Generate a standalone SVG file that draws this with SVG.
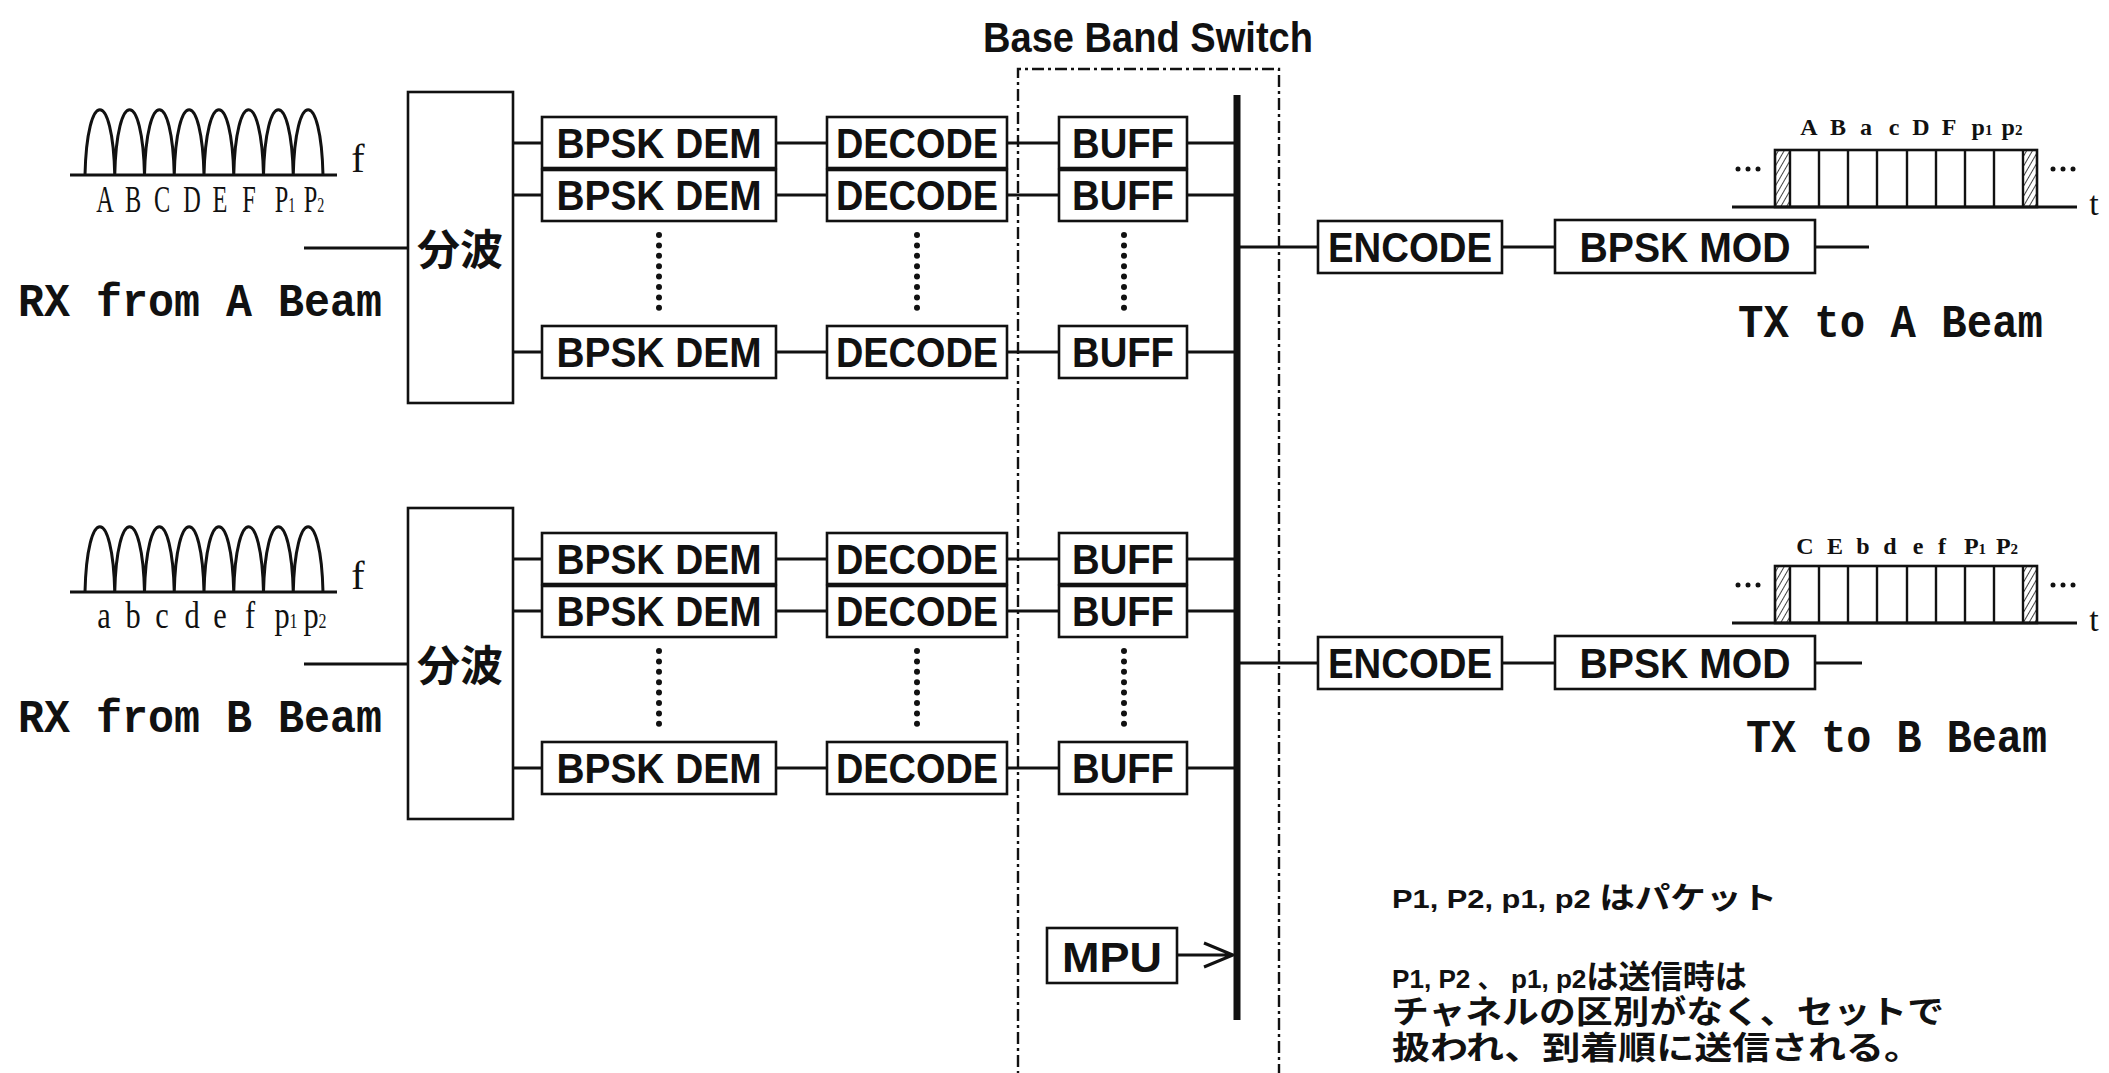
<svg xmlns="http://www.w3.org/2000/svg" width="2109" height="1073" viewBox="0 0 2109 1073">
<style>
.bx{fill:#fff;stroke:#111;stroke-width:2.6}
.ln{stroke:#111;stroke-width:3;fill:none}
.dots{stroke:#111;stroke-width:6;stroke-linecap:round;stroke-dasharray:0 10.4;fill:none}
.t{font-family:"Liberation Sans",Arial,sans-serif;font-weight:700;font-size:42px;fill:#111;text-anchor:middle}
.mono{font-family:"Liberation Mono","Courier New",monospace;font-weight:700;font-size:46px;fill:#111}
.ser{font-family:"Liberation Serif","Times New Roman",serif;fill:#111;text-anchor:middle}
.sl{font-size:38px}
.pl{font-size:24px;font-weight:700}
.cjk{font-family:"Liberation Sans","Noto Sans CJK JP",sans-serif;font-weight:700;fill:#111}
.jp{font-family:"Noto Sans CJK JP",sans-serif;font-weight:700;fill:#111}
</style>
<defs>
<pattern id="hatch" width="5" height="5" patternUnits="userSpaceOnUse" patternTransform="rotate(30)">
<line x1="0" y1="0" x2="0" y2="5" stroke="#111" stroke-width="1.6"/>
</pattern>
<path id="humps" d="M85,175 c2,-87 27.75,-87 29.75,0 c2,-87 27.75,-87 29.75,0 c2,-87 27.75,-87 29.75,0 c2,-87 27.75,-87 29.75,0 c2,-87 27.75,-87 29.75,0 c2,-87 27.75,-87 29.75,0 c2,-87 27.75,-87 29.75,0 c2,-87 27.75,-87 29.75,0 M70,175 H337" fill="none" stroke="#111" stroke-width="3"/>
<g id="pulse">
<line x1="1732" y1="207" x2="2077" y2="207" stroke="#111" stroke-width="3"/>
<rect x="1775" y="150" width="15" height="57" fill="url(#hatch)"/>
<rect x="2023" y="150" width="14" height="57" fill="url(#hatch)"/>
<rect x="1775" y="150" width="262" height="57" fill="none" stroke="#111" stroke-width="2.6"/>
<path d="M1790,150V207M1819,150V207M1848,150V207M1877,150V207M1907,150V207M1936,150V207M1965,150V207M1994,150V207M2023,150V207" stroke="#111" stroke-width="2.4" fill="none"/>
<g fill="#111"><circle cx="1738" cy="169" r="2.5"/><circle cx="1748" cy="169" r="2.5"/><circle cx="1758" cy="169" r="2.5"/><circle cx="2053" cy="169" r="2.5"/><circle cx="2063" cy="169" r="2.5"/><circle cx="2073" cy="169" r="2.5"/></g>
<text x="2094" y="215" class="ser" font-size="34">t</text>
</g>
</defs>

<text x="1148" y="52" class="t" font-size="38" textLength="330" lengthAdjust="spacingAndGlyphs">Base Band Switch</text>

<g id="switch-frame">
<path d="M1018,1090 V69 H1279 V1090" fill="none" stroke="#111" stroke-width="2.4" stroke-dasharray="12 4 3 4"/>
</g>

<g id="connectors">
<line class="ln" x1="304" y1="248" x2="408" y2="248"/>
<line class="ln" x1="304" y1="664" x2="408" y2="664"/>
<path class="ln" d="M513,143H542M776,143H827M1007,143H1059M1187,143H1236
M513,195H542M776,195H827M1007,195H1059M1187,195H1236
M513,352H542M776,352H827M1007,352H1059M1187,352H1236
M513,559H542M776,559H827M1007,559H1059M1187,559H1236
M513,611H542M776,611H827M1007,611H1059M1187,611H1236
M513,768H542M776,768H827M1007,768H1059M1187,768H1236
M1236,247H1318M1502,247H1555M1815,247H1869
M1236,663H1318M1502,663H1555M1815,663H1862"/>
<line x1="1237" y1="95" x2="1237" y2="1020" stroke="#111" stroke-width="7"/>
<path class="ln" d="M1177,955H1233M1204,943L1233,955L1204,967"/>
<path class="dots" d="M659,235V309M917,235V309M1124,235V309M659,651V725M917,651V725M1124,651V725"/>
</g>

<g id="spectrum-a">
<use href="#humps"/>
<text x="358" y="172" class="ser" font-size="40">f</text>
<g class="ser sl">
<text transform="translate(105,212) scale(0.64,1)">A</text>
<text transform="translate(133,212) scale(0.64,1)">B</text>
<text transform="translate(162,212) scale(0.64,1)">C</text>
<text transform="translate(192,212) scale(0.64,1)">D</text>
<text transform="translate(220,212) scale(0.64,1)">E</text>
<text transform="translate(249,212) scale(0.64,1)">F</text>
<text transform="translate(285,212) scale(0.64,1)">P<tspan font-size="22">1</tspan></text>
<text transform="translate(314,212) scale(0.64,1)">P<tspan font-size="22">2</tspan></text>
</g>
</g>

<g id="spectrum-b">
<use href="#humps" transform="translate(0,417)"/>
<text x="358" y="589" class="ser" font-size="40">f</text>
<g class="ser sl">
<text transform="translate(104,628) scale(0.8,1)">a</text>
<text transform="translate(133,628) scale(0.8,1)">b</text>
<text transform="translate(162,628) scale(0.8,1)">c</text>
<text transform="translate(192,628) scale(0.8,1)">d</text>
<text transform="translate(220,628) scale(0.8,1)">e</text>
<text transform="translate(250,628) scale(0.8,1)">f</text>
<text transform="translate(286,628) scale(0.8,1)">p<tspan font-size="20">1</tspan></text>
<text transform="translate(315,628) scale(0.8,1)">p<tspan font-size="20">2</tspan></text>
</g>
</g>

<text x="18" y="316" class="mono" textLength="364" lengthAdjust="spacingAndGlyphs">RX from A Beam</text>
<text x="18" y="732" class="mono" textLength="364" lengthAdjust="spacingAndGlyphs">RX from B Beam</text>

<g id="splitter-a"><rect class="bx" x="408" y="92" width="105" height="311"/><text x="460" y="265" class="jp" font-size="42" text-anchor="middle" textLength="86" lengthAdjust="spacingAndGlyphs">分波</text></g>
<g id="splitter-b"><rect class="bx" x="408" y="508" width="105" height="311"/><text x="460" y="681" class="jp" font-size="42" text-anchor="middle" textLength="86" lengthAdjust="spacingAndGlyphs">分波</text></g>

<g id="dem-a1"><rect class="bx" x="542" y="117" width="234" height="51"/><text x="659" y="158" class="t" textLength="205" lengthAdjust="spacingAndGlyphs">BPSK DEM</text></g>
<g id="dem-a2"><rect class="bx" x="542" y="170" width="234" height="51"/><text x="659" y="210" class="t" textLength="205" lengthAdjust="spacingAndGlyphs">BPSK DEM</text></g>
<g id="dem-an"><rect class="bx" x="542" y="326" width="234" height="52"/><text x="659" y="367" class="t" textLength="205" lengthAdjust="spacingAndGlyphs">BPSK DEM</text></g>
<g id="dec-a1"><rect class="bx" x="827" y="117" width="180" height="51"/><text x="917" y="158" class="t" textLength="162" lengthAdjust="spacingAndGlyphs">DECODE</text></g>
<g id="dec-a2"><rect class="bx" x="827" y="170" width="180" height="51"/><text x="917" y="210" class="t" textLength="162" lengthAdjust="spacingAndGlyphs">DECODE</text></g>
<g id="dec-an"><rect class="bx" x="827" y="326" width="180" height="52"/><text x="917" y="367" class="t" textLength="162" lengthAdjust="spacingAndGlyphs">DECODE</text></g>
<g id="buf-a1"><rect class="bx" x="1059" y="117" width="128" height="51"/><text x="1123" y="158" class="t" textLength="102" lengthAdjust="spacingAndGlyphs">BUFF</text></g>
<g id="buf-a2"><rect class="bx" x="1059" y="170" width="128" height="51"/><text x="1123" y="210" class="t" textLength="102" lengthAdjust="spacingAndGlyphs">BUFF</text></g>
<g id="buf-an"><rect class="bx" x="1059" y="326" width="128" height="52"/><text x="1123" y="367" class="t" textLength="102" lengthAdjust="spacingAndGlyphs">BUFF</text></g>

<g id="dem-b1"><rect class="bx" x="542" y="533" width="234" height="51"/><text x="659" y="574" class="t" textLength="205" lengthAdjust="spacingAndGlyphs">BPSK DEM</text></g>
<g id="dem-b2"><rect class="bx" x="542" y="586" width="234" height="51"/><text x="659" y="626" class="t" textLength="205" lengthAdjust="spacingAndGlyphs">BPSK DEM</text></g>
<g id="dem-bn"><rect class="bx" x="542" y="742" width="234" height="52"/><text x="659" y="783" class="t" textLength="205" lengthAdjust="spacingAndGlyphs">BPSK DEM</text></g>
<g id="dec-b1"><rect class="bx" x="827" y="533" width="180" height="51"/><text x="917" y="574" class="t" textLength="162" lengthAdjust="spacingAndGlyphs">DECODE</text></g>
<g id="dec-b2"><rect class="bx" x="827" y="586" width="180" height="51"/><text x="917" y="626" class="t" textLength="162" lengthAdjust="spacingAndGlyphs">DECODE</text></g>
<g id="dec-bn"><rect class="bx" x="827" y="742" width="180" height="52"/><text x="917" y="783" class="t" textLength="162" lengthAdjust="spacingAndGlyphs">DECODE</text></g>
<g id="buf-b1"><rect class="bx" x="1059" y="533" width="128" height="51"/><text x="1123" y="574" class="t" textLength="102" lengthAdjust="spacingAndGlyphs">BUFF</text></g>
<g id="buf-b2"><rect class="bx" x="1059" y="586" width="128" height="51"/><text x="1123" y="626" class="t" textLength="102" lengthAdjust="spacingAndGlyphs">BUFF</text></g>
<g id="buf-bn"><rect class="bx" x="1059" y="742" width="128" height="52"/><text x="1123" y="783" class="t" textLength="102" lengthAdjust="spacingAndGlyphs">BUFF</text></g>

<g id="enc-a"><rect class="bx" x="1318" y="221" width="184" height="52"/><text x="1410" y="262" class="t" textLength="164" lengthAdjust="spacingAndGlyphs">ENCODE</text></g>
<g id="mod-a"><rect class="bx" x="1555" y="220" width="260" height="53"/><text x="1685" y="262" class="t" textLength="211" lengthAdjust="spacingAndGlyphs">BPSK MOD</text></g>
<g id="enc-b"><rect class="bx" x="1318" y="637" width="184" height="52"/><text x="1410" y="678" class="t" textLength="164" lengthAdjust="spacingAndGlyphs">ENCODE</text></g>
<g id="mod-b"><rect class="bx" x="1555" y="636" width="260" height="53"/><text x="1685" y="678" class="t" textLength="211" lengthAdjust="spacingAndGlyphs">BPSK MOD</text></g>

<g id="mpu"><rect class="bx" x="1047" y="928" width="130" height="55"/><text x="1112" y="972" class="t" font-size="44" textLength="100" lengthAdjust="spacingAndGlyphs">MPU</text></g>

<g id="pulse-a">
<use href="#pulse"/>
<g class="ser pl">
<text x="1809" y="135">A</text><text x="1838" y="135">B</text><text x="1866" y="135">a</text><text x="1894" y="135">c</text><text x="1921" y="135">D</text><text x="1949" y="135">F</text><text x="1982" y="135">p<tspan font-size="15">1</tspan></text><text x="2012" y="135">p<tspan font-size="15">2</tspan></text>
</g>
</g>
<g id="pulse-b">
<use href="#pulse" transform="translate(0,416)"/>
<g class="ser pl">
<text x="1805" y="554">C</text><text x="1835" y="554">E</text><text x="1863" y="554">b</text><text x="1890" y="554">d</text><text x="1918" y="554">e</text><text x="1942" y="554">f</text><text x="1975" y="554">P<tspan font-size="15">1</tspan></text><text x="2007" y="554">P<tspan font-size="15">2</tspan></text>
</g>
</g>

<text x="1738" y="337" class="mono" textLength="305" lengthAdjust="spacingAndGlyphs">TX to A Beam</text>
<text x="1746" y="752" class="mono" textLength="301" lengthAdjust="spacingAndGlyphs">TX to B Beam</text>

<g id="notes" class="cjk" font-size="30">
<text x="1392" y="908" textLength="385" lengthAdjust="spacingAndGlyphs"><tspan font-size="26">P1, P2, p1, p2 </tspan>はパケット</text>
<text x="1392" y="988" font-size="32" textLength="355" lengthAdjust="spacingAndGlyphs"><tspan font-size="26">P1, P2 、 p1, p2</tspan>は送信時は</text>
<text x="1392" y="1023" font-size="32" textLength="552" lengthAdjust="spacingAndGlyphs">チャネルの区別がなく、セットで</text>
<text x="1392" y="1059" font-size="32" textLength="530" lengthAdjust="spacingAndGlyphs">扱われ、到着順に送信される。</text>
</g>
</svg>
